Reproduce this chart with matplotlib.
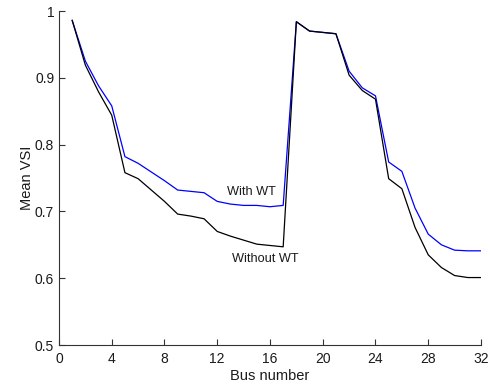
import matplotlib
matplotlib.use("Agg")
import matplotlib.pyplot as plt

plt.rcParams['font.family'] = ['Liberation Sans', 'DejaVu Sans']

bus = list(range(1, 33))
with_wt = [0.986, 0.925, 0.888, 0.858, 0.782, 0.772, 0.759, 0.746, 0.732, 0.730,
           0.728, 0.715, 0.711, 0.709, 0.709, 0.707, 0.709, 0.984, 0.970, 0.968,
           0.966, 0.910, 0.885, 0.873, 0.774, 0.760, 0.705, 0.666, 0.650, 0.642,
           0.641, 0.641]
without_wt = [0.986, 0.919, 0.879, 0.844, 0.758, 0.749, 0.732, 0.715, 0.696, 0.693,
              0.689, 0.670, 0.663, 0.657, 0.651, 0.649, 0.647, 0.984, 0.970, 0.968,
              0.966, 0.904, 0.881, 0.868, 0.749, 0.734, 0.676, 0.635, 0.616, 0.604,
              0.601, 0.601]
xticks = [0, 4, 8, 12, 16, 20, 24, 28, 32]
yticks = [0.5, 0.6, 0.7, 0.8, 0.9, 1.0]
yticklabels = ['0.5', '0.6', '0.7', '0.8', '0.9', '1']

fig = plt.figure(figsize=(4.9, 3.87), dpi=100)
ax = fig.add_axes([0.1204, 0.1085, 0.8612, 0.863])
ax.plot(bus, with_wt, color='#0000ff', lw=0.9)
ax.plot(bus, without_wt, color='#000000', lw=0.9)
ax.set_xlim(0, 32)
ax.set_ylim(0.5, 1.0)
ax.set_xticks(xticks)
ax.set_yticks(yticks)
ax.set_yticklabels(yticklabels)
for s in ['top', 'right']:
    ax.spines[s].set_visible(False)
for s in ['left', 'bottom']:
    ax.spines[s].set_color('#333333')
    ax.spines[s].set_linewidth(0.8)
ax.tick_params(direction='in', length=4, width=0.8, colors='#333333', labelcolor='#1a1a1a', labelsize=10)
ax.tick_params(axis='y', pad=3.5)
ax.tick_params(axis='x', pad=5)
ax.set_xlabel('Bus number', fontsize=10.5, color='#1a1a1a', labelpad=2)
ax.set_ylabel('Mean VSI', fontsize=10.5, color='#1a1a1a', labelpad=0.5)
ax.text(14.61, 0.7246, 'With WT', fontsize=9.2, ha='center', va='baseline', color='#1a1a1a')
ax.text(15.64, 0.6238, 'Without WT', fontsize=9.2, ha='center', va='baseline', color='#1a1a1a')
fig.savefig('out.png', dpi=100)
